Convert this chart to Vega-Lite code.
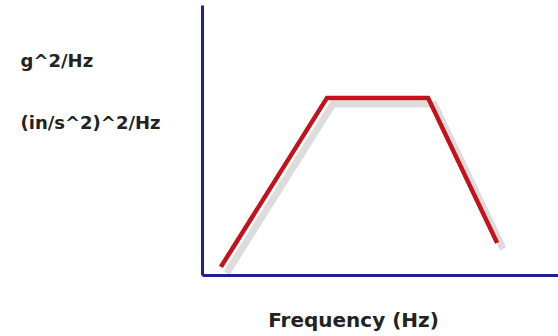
{
  "$schema": "https://vega.github.io/schema/vega-lite/v6.json",
  "autosize": "none",
  "width": 356,
  "height": 270,
  "padding": {"left": 202, "top": 5, "right": 0, "bottom": 61},
  "background": "white",
  "config": {"view": {"stroke": null}},
  "data": {"values": [
    {"frequency": 5.3, "psd": 3.0},
    {"frequency": 35.1, "psd": 65.6},
    {"frequency": 63.5, "psd": 65.6},
    {"frequency": 82.9, "psd": 11.9}
  ]},
  "encoding": {
    "x": {
      "field": "frequency", "type": "quantitative",
      "scale": {"domain": [0, 100], "nice": false, "zero": false},
      "axis": {
        "title": "Frequency (Hz)",
        "grid": false, "ticks": false, "labels": false,
        "domainColor": "#1f1f8f", "domainWidth": 3,
        "titleFont": "DejaVu Sans", "titleFontSize": 20, "titleFontWeight": "bold", "titleColor": "#222222",
        "titleX": 151, "titleY": 51, "titleAlign": "center", "titleBaseline": "alphabetic"
      }
    },
    "y": {
      "field": "psd", "type": "quantitative",
      "scale": {"domain": [0, 100], "nice": false, "zero": false},
      "axis": {
        "title": ["g^2/Hz", "\u2009(in/s^2)^2/Hz"],
        "grid": false, "ticks": false, "labels": false,
        "domainColor": "#1f1f8f", "domainWidth": 3,
        "titleFont": "DejaVu Sans", "titleFontSize": 18, "titleFontWeight": "bold", "titleColor": "#222222",
        "titleAngle": 0, "titleX": -182, "titleY": 61, "titleAlign": "left", "titleBaseline": "alphabetic",
        "titleLineHeight": 62
      }
    }
  },
  "layer": [
    {
      "mark": {"type": "line", "color": "#9a9a9a", "opacity": 0.35, "strokeWidth": 7, "strokeJoin": "miter", "strokeCap": "butt"},
      "encoding": {"xOffset": {"value": 6}, "yOffset": {"value": 6}}
    },
    {
      "mark": {"type": "line", "color": "#c4111c", "strokeWidth": 4.5, "strokeJoin": "miter", "strokeCap": "butt"},
      "encoding": {}
    }
  ]
}
